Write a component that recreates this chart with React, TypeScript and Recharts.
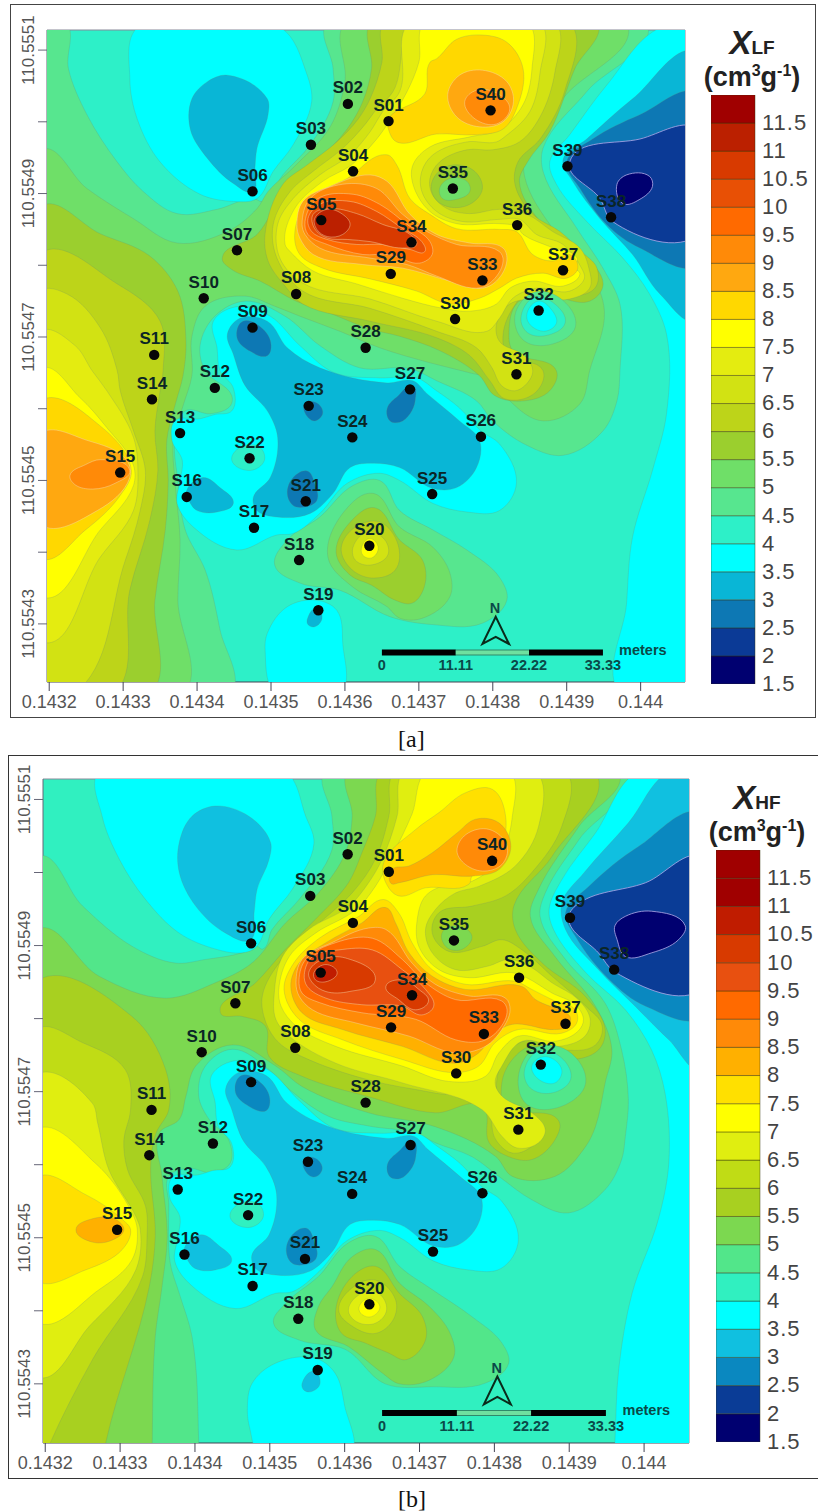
import { Bar, BarChart, CartesianGrid, LabelList, Scatter, ScatterChart, XAxis, YAxis } from 'recharts';

// all map coordinates are offsets from lon 0.1432 / lat 110.5543, in 1e-4 degrees
const STATIONS: [string, number, number][] = [
  ['S01', 4.59, 7.01], ['S02', 4.04, 7.25], ['S03', 3.54, 6.68], ['S04', 4.11, 6.31], ['S05', 3.68, 5.63],
  ['S06', 2.75, 6.03], ['S07', 2.54, 5.21], ['S08', 3.34, 4.6], ['S09', 2.75, 4.13], ['S10', 2.09, 4.54],
  ['S11', 1.42, 3.75], ['S12', 2.24, 3.29], ['S13', 1.77, 2.66], ['S14', 1.39, 3.13], ['S15', 0.96, 2.11],
  ['S16', 1.86, 1.77], ['S17', 2.77, 1.34], ['S18', 3.38, 0.89], ['S19', 3.64, 0.19], ['S20', 4.33, 1.09],
  ['S21', 3.47, 1.71], ['S22', 2.71, 2.31], ['S23', 3.51, 3.04], ['S24', 4.1, 2.6], ['S25', 5.18, 1.81],
  ['S26', 5.84, 2.61], ['S27', 4.88, 3.27], ['S28', 4.28, 3.85], ['S29', 4.62, 4.88], ['S30', 5.49, 4.25],
  ['S31', 6.32, 3.48], ['S32', 6.62, 4.37], ['S33', 5.86, 4.79], ['S34', 4.9, 5.32], ['S35', 5.46, 6.07],
  ['S36', 6.33, 5.56], ['S37', 6.95, 4.93], ['S38', 7.6, 5.67], ['S39', 7.01, 6.38], ['S40', 5.97, 7.16],
];

const LON_TICKS = [0.1432, 0.1433, 0.1434, 0.1435, 0.1436, 0.1437, 0.1438, 0.1439, 0.144];
const LAT_TICKS = [110.5543, 110.5544, 110.5545, 110.5546, 110.5547, 110.5548, 110.5549, 110.555, 110.5551];
const LAT_LABELS = [110.5543, 110.5545, 110.5547, 110.5549, 110.5551];
const LON_DOMAIN = [0.143197, 0.14406];
const LAT_DOMAIN = [110.554219, 110.555128];

const LEVELS = [1.5, 2, 2.5, 3, 3.5, 4, 4.5, 5, 5.5, 6, 6.5, 7, 7.5, 8, 8.5, 9, 9.5, 10, 10.5, 11, 11.5];
const LEVEL_TICKS = [1.5, 2, 2.5, 3, 3.5, 4, 4.5, 5, 5.5, 6, 6.5, 7, 7.5, 8, 8.5, 9, 9.5, 10, 10.5, 11, 11.5];
const COLORS_LF = ['#000070', '#0b3a96', '#0d78b4', '#09b6d6', '#00ffff', '#2df0c8', '#57e68f', '#6fdf68', '#9bcf2e', '#bdd419', '#d2e213', '#e4ec10', '#ffff00', '#ffd800', '#ffa810', '#ff8a08', '#ff6a00', '#e85005', '#d83a00', '#bb2000', '#a00000'];
const COLORS_HF = ['#000070', '#0a3c96', '#0a88c0', '#10c0e0', '#00ffff', '#30f0c0', '#52e68a', '#7cd850', '#a8d020', '#c0dc15', '#e0ee10', '#ffff00', '#ffe000', '#ffb000', '#ff8a08', '#ff6a00', '#e85010', '#d83a00', '#c01c00', '#a00000', '#a00000'];

// contour outlines [x, y, x, y, ...] of the [a] map
const A_45 = [-0.12,8.39, 0.22,8.39, 0.26,7.74, 0.51,7.1, 0.92,6.44, 1.27,6.03, 1.73,5.72, 2.27,5.78, 2.76,5.93, 2.89,5.89, 3.16,6.26, 3.53,6.68, 3.84,7.28, 3.84,7.74, 3.76,8.39, 8.08,8.39, 7.27,7.42, 6.68,6.63, 6.68,6.31, 7.14,5.51, 7.49,4.96, 7.72,4.46, 7.72,3.53, 7.68,3.11, 7.49,2.69, 6.95,2.35, 6.46,2.49, 6,2.83, 5.78,3.11, 5.24,3.39, 4.88,3.56, 4.2,3.57, 3.66,3.88, 3.19,4.29, 2.65,4.5, 2.24,4.29, 2.04,3.88, 2.11,3.53, 2.47,3.18, 2.45,3.04, 2.18,2.93, 1.84,2.97, 1.7,2.56, 1.74,2, 1.84,1.31, 2.11,0.75, 2.31,-0.08, 2.45,-0.99, -0.12,-0.99];
const A_50 = [-0.12,6.61, 0.51,6.07, 1.14,5.65, 1.73,5.31, 2.41,5.47, 2.81,5.79, 2.96,6.03, 3.32,6.38, 3.8,6.93, 4,7.56, 4.01,8.39, 7.81,8.39, 6.97,7.35, 6.46,6.65, 6.43,6.24, 6.84,5.47, 7.31,4.92, 7.51,4.36, 7.31,3.53, 7.18,3.07, 6.68,2.83, 6.23,3.11, 6.05,3.39, 5.69,3.5, 5.15,3.64, 4.47,3.85, 3.93,4.08, 3.39,4.29, 3.05,4.43, 2.65,4.57, 2.11,4.43, 1.93,4.01, 1.93,3.46, 1.81,3.04, 1.68,2.56, 1.7,2, 1.77,1.17, 1.74,0.33, 1.81,-0.99, -0.12,-0.99];
const A_W55 = [-0.12,5.82, 0.69,5.44, 1.36,5.13, 1.74,4.64, 1.85,3.94, 1.81,3.46, 1.7,3.04, 1.59,2.56, 1.61,2, 1.57,1.31, 1.43,0.33, 1.36,-0.99, -0.12,-0.99];
const A_W60 = [-0.12,5.17, 0.92,4.74, 1.5,4.22, 1.54,3.53, 1.5,3.25, 1.43,2.69, 1.47,2.14, 1.36,1.44, 1.09,0.47, 0.86,-0.99, -0.12,-0.99];
const A_W65 = [-0.12,4.64, 0.24,4.6, 0.69,4.13, 0.92,3.53, 0.96,3.25, 1.14,2.69, 1.3,2.14, 1.23,1.58, 1.03,0.89, 0.31,-0.99, -0.12,-0.99];
const A_W70 = [-0.12,4.08, 0.35,3.88, 0.58,3.53, 0.78,3.25, 1.14,2.6, 1.2,2.14, 1.14,1.58, 0.69,0.93, -0.12,-0.25];
const A_W75 = [-0.12,3.56, 0.42,3.15, 0.76,2.76, 1.14,2.21, 1.14,1.93, 0.69,1.31, -0.12,0.38];
const A_W80 = [-0.12,3.11, 0.69,2.76, 1.11,2.14, 0.96,1.79, 0.49,1.31, -0.12,0.92];
const A_W85 = [-0.12,2.65, 0.51,2.56, 1.05,2.28, 1.09,2.04, 0.65,1.58, -0.12,1.39];
const A_W90 = [0.28,2.07, 0.49,2.22, 0.69,2.29, 1.09,2.14, 0.89,1.96, 0.59,1.88, 0.35,1.94];
const A_C55 = [2.34,5.1, 2.81,5.43, 3.16,5.99, 3.62,6.44, 4.03,6.9, 4.24,7.28, 4.36,7.74, 4.36,8.39, 7.41,8.39, 7.11,7.74, 6.77,6.86, 6.47,6.44, 6.36,6.17, 6.64,5.61, 7.04,5.26, 7.38,4.99, 7.49,4.71, 7.31,4.5, 6.64,4.6, 6.32,4.46, 6.22,4.08, 6.27,3.81, 6.86,3.53, 6.77,3.25, 6.43,3.11, 6.03,3.18, 5.82,3.46, 5.28,3.81, 4.74,4.01, 4.34,4.11, 3.8,4.33, 3.34,4.5, 2.85,4.78, 2.47,4.94];
const A_C60 = [2.92,5.44, 3.16,6.13, 3.49,6.4, 3.89,6.72, 4.18,7.04, 4.34,7.32, 4.5,7.83, 4.54,8.39, 7.04,8.39, 6.97,7.42, 6.64,6.76, 6.34,6.44, 6.3,6.13, 6.54,5.71, 6.91,5.47, 7.2,5.19, 7.41,4.96, 7.38,4.68, 7,4.57, 6.54,4.68, 6.27,4.4, 6.14,4.04, 6.19,3.76, 6.68,3.53, 6.57,3.22, 6.16,3.14, 5.96,3.39, 5.69,3.74, 5.24,3.99, 4.34,4.22, 3.43,4.46, 3.19,4.71, 2.96,5.06];
const A_C65 = [3.03,5.57, 3.26,6.03, 3.57,6.31, 3.97,6.63, 4.27,6.96, 4.43,7.18, 4.65,7.42, 4.95,8.39, 6.84,8.39, 6.84,7.69, 6.64,7.07, 6.36,6.72, 6,6.61, 5.65,6.61, 5.28,6.44, 5.15,6.21, 5.18,5.99, 5.38,5.79, 5.69,5.72, 6.09,5.78, 6.46,5.71, 6.81,5.47, 7.18,5.24, 7.3,4.96, 7.31,4.68, 7.04,4.53, 6.59,4.53, 6.23,4.46, 6.05,4.18, 6.09,3.94, 6.43,3.74, 6.54,3.53, 6.46,3.35, 6.3,3.25, 6.12,3.32, 5.99,3.57, 5.78,3.85, 5.24,4.08, 4.34,4.4, 3.43,4.64, 3.08,5.1];
const A_C70 = [3.09,5.57, 3.3,5.93, 3.66,6.26, 4.07,6.54, 4.34,6.86, 4.51,7.14, 4.74,7.42, 4.88,8.39, 6.64,8.39, 6.64,7.69, 6.5,7.14, 6.16,6.79, 6.05,6.72, 5.65,6.72, 5.19,6.54, 5.04,6.31, 5.04,6.03, 5.24,5.75, 5.59,5.61, 6.09,5.64, 6.36,5.64, 6.59,5.43, 6.95,5.29, 7.2,4.96, 7.24,4.82, 7.04,4.64, 6.59,4.68, 6.27,4.54, 6.09,4.26, 5.92,4.08, 5.24,4.22, 4.34,4.53, 3.43,4.75, 3.12,5.1];
const A_C75 = [3.19,5.29, 3.32,5.79, 3.7,6.17, 4.09,6.4, 4.43,6.76, 4.57,6.96, 4.84,7.42, 5,7.83, 5.08,8.39, 6.47,8.39, 6.53,7.74, 6.41,7.24, 6.09,6.89, 5.69,6.79, 5.15,6.65, 4.92,6.4, 4.92,6.13, 5.15,5.75, 5.51,5.58, 6.09,5.58, 6.32,5.54, 6.41,5.43, 6.77,5.26, 7.14,5.1, 7.12,4.96, 7.18,4.88, 6.95,4.71, 6.54,4.78, 6.23,4.68, 6.05,4.46, 5.69,4.36, 5.32,4.4, 4.78,4.54, 4.16,4.74, 3.57,4.92, 3.26,5.19];
const A_C80 = [3.32,5.43, 3.49,5.89, 4.03,6.21, 4.57,6.54, 4.7,6.4, 4.88,5.93, 5.15,5.71, 5.51,5.51, 6.09,5.5, 6.32,5.47, 6.54,5.15, 6.81,5.06, 7.04,5.15, 7.15,4.96, 7,4.82, 6.68,4.89, 6.32,4.82, 6.09,4.68, 5.82,4.54, 5.42,4.46, 4.97,4.64, 4.34,4.81, 3.7,4.96, 3.39,5.15];
const A_C85 = [3.35,5.57, 3.43,5.89, 3.8,6.1, 4.34,6.26, 4.57,6.17, 4.88,5.71, 5.24,5.43, 5.69,5.31, 6.14,5.24, 6.19,5.06, 6.05,4.78, 5.86,4.68, 5.42,4.78, 4.78,4.96, 4.24,5.01, 3.57,5.15, 3.39,5.38];
const A_C90 = [3.42,5.57, 3.53,5.93, 3.97,6.13, 4.43,6.07, 4.78,5.71, 5.11,5.47, 5.51,5.29, 6.09,5.19, 6.14,5.06, 5.96,4.75, 5.78,4.68, 5.24,4.85, 4.84,5.01, 4.34,5.1, 3.66,5.24, 3.46,5.43];
const A_C95 = [3.46,5.61, 3.62,5.92, 4.11,5.99, 4.47,5.85, 4.84,5.57, 5.15,5.33, 5.18,5.15, 5.01,5.03, 4.61,5.15, 4.24,5.15, 3.76,5.29, 3.5,5.43];
const A_C100 = [3.5,5.65, 3.66,5.85, 4.07,5.89, 4.43,5.75, 4.78,5.51, 5.04,5.33, 5.08,5.19, 4.88,5.22, 4.51,5.29, 4.16,5.29, 3.76,5.36, 3.55,5.47];
const A_C105 = [3.57,5.71, 3.8,5.79, 4.16,5.72, 4.51,5.57, 4.88,5.43, 4.97,5.29, 4.78,5.24, 4.34,5.33, 4.03,5.36, 3.76,5.38, 3.59,5.51];
const A_C110 = [3.59,5.65, 3.76,5.78, 3.97,5.71, 4.07,5.57, 3.97,5.43, 3.76,5.4, 3.62,5.5];
const A_N80 = [4.58,7.03, 5.08,7.39, 5.15,7.83, 5.24,7.88, 5.51,8.15, 5.86,8.21, 6.19,8.11, 6.41,7.74, 6.32,7.18, 6.14,6.9, 5.78,6.82, 5.24,6.83, 4.7,6.72, 4.58,6.93];
const A_N85 = [5.39,7.38, 5.55,7.65, 5.86,7.72, 6.19,7.56, 6.28,7.28, 6.14,7, 5.82,6.93, 5.51,7.07];
const A_N90 = [5.62,7.28, 5.78,7.44, 6.09,7.38, 6.23,7.18, 6.05,6.97, 5.76,7.04];
const A_S35A = [5.18,6.17, 5.38,6.38, 5.73,6.33, 5.86,6.07, 5.69,5.85, 5.38,5.82, 5.2,5.96];
const A_S35B = [5.28,6.07, 5.42,6.21, 5.65,6.17, 5.69,6.03, 5.51,5.92, 5.32,5.93];
const A_S32A = [6.3,4.3, 6.55,4.62, 6.9,4.55, 7.12,4.15, 6.8,3.9, 6.42,3.95];
const A_S32B = [6.38,4.26, 6.56,4.55, 6.84,4.46, 6.98,4.2, 6.72,4.02, 6.47,4.06];
const A_S32C = [6.46,4.26, 6.61,4.5, 6.81,4.36, 6.86,4.19, 6.68,4.08];
const A_S20A = [3.05,0.82, 3.22,1.17, 3.66,1.49, 4.11,1.93, 4.47,2, 4.74,1.58, 5.19,1.31, 5.65,1.03, 6.09,0.65, 6.19,0.33, 5.86,0.01, 5.19,-0.01, 4.61,0.1, 3.93,0.47, 3.39,0.57];
const A_S20B = [3.77,0.93, 4,1.58, 4.38,1.82, 4.74,1.35, 5.19,1.07, 5.42,0.71, 5.42,0.38, 5.05,0.08, 4.74,0.08, 4.57,0.24, 4.11,0.51];
const A_S20C = [3.88,1, 4.09,1.44, 4.4,1.62, 4.74,1.17, 5.05,0.89, 5.08,0.54, 4.91,0.29, 4.68,0.33, 4.36,0.54, 4.07,0.68];
const A_S20D = [3.95,1.06, 4.14,1.35, 4.47,1.42, 4.72,1.1, 4.68,0.75, 4.36,0.64, 4.07,0.78];
const A_S20E = [4.11,1.07, 4.31,1.28, 4.54,1.17, 4.58,0.96, 4.34,0.82, 4.14,0.89];
const A_S20F = [4.23,1.08, 4.34,1.19, 4.45,1.06, 4.36,0.92, 4.24,0.96];
const A_LOW_NW = [1.2,8.32, 1.09,7.6, 1.19,7.04, 1.5,6.44, 2.04,5.99, 2.49,5.89, 2.81,5.93, 3.03,6.31, 3.3,6.68, 3.55,7.28, 3.49,7.65, 3.12,8.32];
const A_LOW_NW2 = [2.41,7.65, 2.95,7.32, 2.96,7.1, 2.81,6.63, 2.78,6.31, 2.76,6.03, 2.49,6.14, 2.14,6.49, 1.91,6.89, 1.93,7.32, 2.14,7.56];
const A_LOW_MID = [2.58,4.43, 2.99,4.29, 3.39,3.88, 3.86,3.5, 4.47,3.43, 4.97,3.43, 5.24,3.25, 5.55,3.01, 5.84,2.69, 6.09,2.51, 6.32,1.96, 6.09,1.58, 5.65,1.56, 5.19,1.68, 4.74,2, 4.47,2.1, 4.03,1.96, 3.66,1.54, 3.3,1.26, 3.08,1.24, 2.54,1.03, 1.95,1.35, 1.73,1.68, 1.77,2, 1.8,2.28, 1.66,2.56, 1.7,2.83, 2.04,2.86, 2.24,2.92, 2.47,2.97, 2.49,3.29, 2.31,3.53, 2.27,3.85, 2.22,4.22];
const A_LOW_MID2 = [2.58,4.26, 2.95,4.22, 3.22,3.85, 3.66,3.57, 4.57,3.36, 4.92,3.39, 5.11,3.21, 5.55,2.83, 5.82,2.56, 5.78,2.18, 5.51,1.9, 5.18,1.89, 4.74,2.18, 4.38,2.24, 4.07,2.18, 3.84,1.82, 3.53,1.54, 3.08,1.49, 2.81,1.58, 2.76,1.76, 2.99,2.04, 3.09,2.6, 2.95,2.97, 2.65,3.32, 2.49,3.76, 2.41,4.04];
const A_LOW_S16 = [1.91,1.68, 1.86,1.86, 2.08,2.04, 2.31,1.9, 2.49,1.68, 2.27,1.56, 2,1.58];
const A_LOW_S19 = [2.95,-0.13, 3.22,0.24, 3.62,0.33, 3.89,0.19, 3.97,-0.26, 3.93,-0.99, 3.08,-0.99, 2.92,-0.36];
const A_LOW_S19B = [3.49,0.06, 3.62,0.22, 3.69,0.08, 3.59,-0.04, 3.5,-0.01];
const A_LOW_S09 = [2.54,3.99, 2.62,4.22, 2.89,4.11, 3,3.9, 2.95,3.74, 2.72,3.8];
const A_LOW_S23 = [3.46,3.08, 3.62,3.08, 3.7,2.94, 3.59,2.83, 3.46,2.94];
const A_LOW_S27 = [4.57,3, 4.72,3.18, 4.92,3.32, 4.95,3.11, 4.88,2.93, 4.74,2.81, 4.61,2.83];
const A_LOW_S21 = [3.22,1.82, 3.3,2.04, 3.49,2.13, 3.59,1.96, 3.62,1.72, 3.46,1.63, 3.3,1.65];
const A_S22 = [2.47,2.28, 2.58,2.46, 2.85,2.46, 2.91,2.28, 2.72,2.14];
const A_E40 = [8.28,8.32, 7.54,7.51, 7.04,6.82, 6.77,6.44, 6.86,6.13, 7.27,5.61, 7.76,5.1, 8.12,4.6, 8.35,4.04, 8.35,2.93, 8.16,2.14, 7.89,1.21, 7.81,0.29, 7.74,-0.99, 8.8,-0.99, 8.8,8.32];
const A_E35 = [8.8,7.97, 7.89,7.32, 7.27,6.76, 6.95,6.47, 7.08,6.17, 7.45,5.65, 7.89,5.15, 8.26,4.6, 8.8,4.22];
const A_E30 = [8.8,7.39, 7.99,7.1, 7.35,6.76, 7,6.44, 7.18,6.07, 7.54,5.57, 7.99,5.24, 8.8,5.01];
const A_E25 = [8.8,6.89, 7.99,6.76, 7.04,6.44, 7.45,5.93, 7.62,5.61, 8.8,5.44];
const A_E20 = [7.68,6.13, 7.81,6.26, 8.12,6.24, 8.16,6.1, 7.99,5.92, 7.76,5.86];

// contour outlines of the [b] map
const B_45 = [-0.12,7.22, 0.5,6.54, 1.16,5.99, 1.74,5.76, 2.14,5.81, 2.63,5.9, 2.83,5.99, 2.9,5.95, 3.03,6.22, 3.39,6.63, 3.83,7.31, 3.83,7.77, 3.74,8.39, 7.79,8.39, 7.13,7.45, 6.68,6.72, 6.61,6.4, 6.95,5.81, 7.48,5.21, 7.7,4.57, 7.79,3.89, 7.75,3.39, 7.7,3.07, 7.48,2.66, 6.99,2.34, 6.5,2.52, 6.06,2.84, 5.7,3.11, 5.21,3.3, 4.95,3.43, 4.32,3.53, 3.79,3.66, 3.26,4.03, 2.99,4.3, 2.5,4.58, 2.14,4.35, 2.05,3.94, 2.19,3.62, 2.45,3.34, 2.47,3.02, 2.23,2.89, 1.92,2.95, 1.65,2.84, 1.65,2.47, 1.67,1.65, 1.79,1.24, 1.96,0.65, 2.05,-0.8, 2.05,-0.99, -0.12,-0.99];
const B_50 = [-0.12,6.22, 0.72,5.58, 1.61,5.28, 2.27,5.49, 2.76,5.76, 3.21,6.31, 3.65,6.72, 4.01,7.27, 4.1,7.77, 4.05,8.39, 7.66,8.39, 7.13,7.63, 6.59,6.77, 6.48,6.4, 6.81,5.85, 7.35,5.17, 7.57,4.57, 7.48,4.12, 7.35,3.52, 7.22,3.25, 6.81,2.84, 6.24,2.84, 6.02,3.11, 5.21,3.52, 4.32,3.71, 3.43,4.07, 3.08,4.35, 2.5,4.64, 2.01,4.35, 1.88,3.94, 1.79,3.62, 1.52,3.43, 1.56,2.84, 1.63,2.02, 1.56,1.33, 1.47,0.65, 1.43,-0.8, 1.43,-0.99, -0.12,-0.99];
const B_W55 = [-0.12,5.51, 1.16,5.03, 1.61,4.3, 1.65,3.75, 1.48,3.43, 1.41,3.02, 1.47,2.02, 1.39,1.33, 0.81,-0.8, 0.78,-0.99, -0.12,-0.99];
const B_W60 = [-0.12,4.85, 0.5,4.67, 1.07,4.3, 1.14,3.75, 1.05,3.34, 1.1,2.93, 1.34,2.43, 1.36,2.02, 1.3,1.47, 0.63,0.33, 0.07,-0.8, 0,-0.99, -0.12,-0.99];
const B_W65 = [-0.12,4.23, 0.63,3.84, 0.7,3.57, 0.85,2.93, 1.21,2.29, 1.27,2.11, 1.21,1.56, 0.59,0.79, -0.12,0.1];
const B_W70 = [-0.12,3.48, 0.67,3.02, 1.16,2.34, 1.23,2.11, 1.16,1.7, 0.72,1.29, -0.12,0.85];
const B_W75 = [-0.12,2.82, 0.54,2.59, 1.03,2.25, 1.14,2.11, 1.03,1.84, 0.54,1.56, -0.12,1.42];
const B_W80 = [0.41,2.11, 0.63,2.26, 0.94,2.25, 1.05,2.11, 0.9,1.97, 0.63,1.94];
const B_C55 = [2.34,5.08, 2.81,5.49, 3.21,5.95, 3.61,6.36, 4.05,6.86, 4.23,7.27, 4.41,7.77, 4.5,8.39, 7.35,8.39, 6.77,7.22, 6.26,6.54, 6.28,6.22, 6.64,5.76, 7.22,5.3, 7.48,4.85, 7.39,4.57, 6.95,4.44, 6.5,4.62, 6.24,4.44, 6.1,4.12, 6.15,3.8, 6.86,3.6, 6.81,3.34, 6.5,3.07, 6.19,3.11, 5.93,3.3, 5.84,3.8, 5.21,3.71, 4.32,3.93, 3.43,4.21, 2.99,4.48, 2.94,4.9, 2.63,5.03];
const B_C60 = [2.9,5.31, 3.16,5.81, 3.61,6.26, 4.1,6.72, 4.41,7.18, 4.59,7.77, 4.68,8.39, 6.95,8.39, 6.9,7.63, 6.5,7, 6.15,6.68, 5.7,6.54, 5.26,6.45, 5.17,6.17, 5.39,5.92, 5.84,5.99, 6.1,6.08, 6.37,5.94, 6.77,5.58, 7.22,5.17, 7.44,4.9, 7.35,4.64, 6.95,4.57, 6.5,4.71, 6.19,4.57, 6.04,4.21, 6.06,3.89, 6.33,3.62, 6.64,3.48, 6.5,3.25, 6.24,3.16, 6.02,3.34, 5.88,3.84, 5.21,3.98, 4.32,4.16, 3.43,4.48, 3.12,4.67, 2.95,4.94];
const B_C65 = [3.06,5.35, 3.17,5.85, 3.52,6.22, 4.06,6.54, 4.32,6.86, 4.5,7.18, 4.7,7.77, 4.8,8.39, 6.55,8.39, 6.59,7.63, 6.28,7.09, 5.79,6.81, 5.48,6.72, 5.21,6.49, 5.08,6.22, 5.17,5.9, 5.48,5.67, 5.92,5.72, 6.19,5.81, 6.46,5.72, 6.77,5.49, 7.12,5.26, 7.28,4.99, 7.21,4.76, 6.86,4.62, 6.37,4.69, 6.1,4.35, 6.01,4.12, 6.1,3.94, 6.5,3.71, 6.68,3.48, 6.59,3.3, 6.3,3.23, 6.1,3.39, 5.84,3.75, 4.77,4.12, 3.88,4.39, 3.26,4.76, 3.08,4.99];
const B_C70 = [3.12,5.4, 3.26,5.85, 3.61,6.17, 4.15,6.49, 4.41,6.81, 4.63,7.22, 4.9,7.8, 5.1,8.39, 6.2,8.39, 6.24,7.77, 6.06,7.18, 5.7,6.88, 5.39,6.84, 5.08,6.68, 4.97,6.36, 4.99,5.99, 5.26,5.67, 5.66,5.56, 6.23,5.63, 6.43,5.56, 6.77,5.35, 7.08,5.19, 7.19,4.99, 7.12,4.83, 6.81,4.69, 6.32,4.76, 6.06,4.53, 5.88,4.21, 5.39,4.14, 4.77,4.35, 3.88,4.62, 3.35,4.9, 3.15,5.17];
const B_C75 = [3.19,5.4, 3.32,5.76, 3.66,6.1, 4.19,6.4, 4.52,6.63, 4.72,6.45, 4.9,6.04, 5.17,5.67, 5.61,5.47, 6.28,5.51, 6.5,5.4, 6.81,5.24, 7.08,5.12, 7.1,4.94, 6.9,4.8, 6.32,4.85, 6.01,4.67, 5.79,4.35, 5.48,4.26, 4.77,4.44, 3.97,4.71, 3.39,4.99];
const B_C80 = [3.28,5.44, 3.39,5.76, 3.75,6.04, 4.23,6.31, 4.55,6.52, 4.68,6.31, 4.86,5.9, 5.17,5.58, 5.61,5.4, 6.37,5.44, 6.55,5.26, 6.86,5.12, 7.01,5.03, 6.99,4.9, 6.81,4.85, 6.23,4.92, 6.01,4.8, 5.79,4.53, 5.48,4.39, 4.77,4.62, 3.97,4.85, 3.43,5.08];
const B_C85 = [3.35,5.49, 3.43,5.81, 3.83,6.04, 4.32,6.24, 4.55,6.22, 4.9,5.76, 5.21,5.47, 5.66,5.31, 6.15,5.28, 6.21,5.12, 6.1,4.85, 5.88,4.62, 5.48,4.53, 4.86,4.76, 4.15,4.94, 3.57,5.12, 3.39,5.31];
const B_C90 = [3.39,5.53, 3.48,5.81, 3.88,6.04, 4.37,6.1, 4.77,5.81, 5.08,5.49, 5.48,5.26, 6.1,5.24, 6.17,5.12, 6.06,4.85, 5.83,4.69, 5.48,4.71, 4.95,4.99, 4.23,5.08, 3.66,5.22, 3.43,5.35];
const B_C95 = [3.46,5.6, 3.57,5.85, 3.92,5.94, 4.37,5.94, 4.77,5.67, 5.08,5.4, 5.19,5.17, 5.03,5.05, 4.77,5.17, 4.23,5.19, 3.75,5.28, 3.5,5.44];
const B_C100 = [3.52,5.63, 3.7,5.81, 4.01,5.83, 4.41,5.53, 4.06,5.37, 3.75,5.37, 3.57,5.49];
const B_S34 = [4.55,5.44, 4.77,5.53, 4.99,5.4, 5.12,5.24, 4.95,5.12, 4.72,5.26];
const B_C105 = [3.59,5.63, 3.75,5.74, 3.9,5.63, 3.77,5.51, 3.61,5.53];
const B_N75 = [4.55,6.86, 4.52,7.13, 4.95,7.59, 5.26,7.82, 5.61,8.09, 5.97,8.14, 6.15,7.77, 6.06,7.27, 5.7,6.95, 5.66,6.84, 5.08,6.79, 4.72,6.68];
const B_N80 = [4.63,7.04, 4.86,7.09, 5.17,7.27, 5.5,7.54, 5.75,7.73, 6.06,7.68, 6.22,7.36, 6.06,7.04, 5.7,6.95, 5.17,6.97, 4.73,6.86, 4.62,6.85];
const B_N85 = [5.5,7.3, 5.62,7.52, 5.93,7.59, 6.17,7.36, 6.1,7.11, 5.84,7.02, 5.59,7.13];
const B_S35 = [5.3,6.17, 5.48,6.27, 5.7,6.13, 5.57,5.95, 5.37,5.97];
const B_S32A = [6.32,4.2, 6.55,4.6, 6.98,4.56, 7.22,4.12, 6.9,3.8, 6.44,3.82];
const B_S32B = [6.4,4.28, 6.6,4.56, 6.92,4.44, 7.02,4.17, 6.76,3.98, 6.48,4.05];
const B_S32C = [6.5,4.35, 6.68,4.48, 6.9,4.3, 6.81,4.12, 6.59,4.17];
const B_S20A = [3.05,0.83, 3.21,1.1, 3.65,1.47, 4.05,1.93, 4.41,2.02, 4.73,1.61, 5.17,1.29, 5.7,0.92, 6.1,0.56, 6.19,0.28, 5.88,0.01, 5.17,-0.04, 4.54,0, 4.01,0.47, 3.39,0.6];
const B_S20B = [3.65,1.06, 3.83,1.33, 4.1,1.74, 4.41,1.84, 4.73,1.38, 5.13,1.06, 5.41,0.69, 5.46,0.37, 5.13,0.05, 4.73,0, 4.5,0.15, 4.05,0.51, 3.61,0.74];
const B_S20C = [3.88,1.01, 4.1,1.47, 4.41,1.61, 4.73,1.24, 5.04,0.92, 5.08,0.6, 4.82,0.33, 4.59,0.42, 4.27,0.56, 3.96,0.69];
const B_S20D = [3.92,1.01, 4.12,1.33, 4.41,1.42, 4.68,1.15, 4.65,0.88, 4.41,0.69, 4.1,0.79];
const B_S20E = [4.05,1.01, 4.23,1.24, 4.45,1.24, 4.56,1.01, 4.41,0.83, 4.16,0.85];
const B_S20F = [4.19,1.04, 4.32,1.17, 4.47,1.06, 4.36,0.92, 4.23,0.95];
const B_LOW_NW = [0.72,8.39, 0.76,7.77, 0.99,7.18, 1.34,6.63, 1.79,6.17, 2.28,5.95, 2.63,5.9, 2.81,5.97, 2.99,6.36, 3.3,6.77, 3.59,7.4, 3.48,7.77, 3.2,8.39];
const B_LOW_NW2 = [2.27,7.91, 2.72,7.77, 3.01,7.41, 2.99,7.18, 2.83,6.77, 2.79,6.45, 2.74,6.08, 2.41,6.17, 2.01,6.54, 1.79,7, 1.79,7.41, 1.96,7.77];
const B_LOW_S19 = [2.7,-0.36, 2.76,0, 3.07,0.28, 3.61,0.35, 3.87,0.15, 4,-0.3, 4.07,-0.99, 2.88,-0.99, 2.73,-0.6];
const B_LOW_S19B = [3.43,0, 3.59,0.17, 3.67,0, 3.54,-0.11, 3.45,-0.08];
const B_E40 = [7.93,8.39, 7.35,7.54, 6.9,6.9, 6.73,6.49, 6.79,6.22, 7.22,5.63, 7.75,5.12, 8.1,4.57, 8.28,3.98, 8.33,3.02, 8.19,2.25, 7.84,1.24, 7.66,0.19, 7.61,-0.8, 7.6,-0.99, 8.8,-0.99, 8.8,8.39];
const B_E35 = [8.35,8.39, 7.79,7.68, 7.2,7, 6.9,6.58, 6.95,6.22, 7.39,5.67, 7.88,5.17, 8.33,4.71, 8.8,4.3, 8.8,8.39];
const B_E30 = [8.8,7.8, 7.93,7.36, 7.26,6.81, 6.95,6.45, 7.08,6.13, 7.53,5.54, 8.02,5.17, 8.8,5.03];
const B_E25 = [8.8,7.2, 8.02,6.86, 7.08,6.54, 6.99,6.36, 7.39,5.9, 7.62,5.63, 8.8,5.42];
const B_E20 = [7.61,6.27, 7.75,6.4, 8.1,6.47, 8.55,6.27, 8.46,6.08, 8.1,5.9, 7.75,5.85, 7.64,6.08];

// level is the lower bound of the legend band the outline is filled with
const LAYERS_A: [number, number[]][] = [
  [4.5, A_45], [5, A_50], [5.5, A_W55], [6, A_W60], [6.5, A_W65], [7, A_W70], [7.5, A_W75], [8, A_W80], [8.5, A_W85], [9, A_W90],
  [5.5, A_C55], [6, A_C60], [6.5, A_C65], [7, A_C70], [7.5, A_C75], [8, A_C80], [8.5, A_C85], [9, A_C90], [9.5, A_C95], [10, A_C100], [10.5, A_C105], [11, A_C110],
  [8, A_N80], [8.5, A_N85], [9, A_N90], [5.5, A_S35A], [5, A_S35B], [4.5, A_S32A], [4, A_S32B], [3.5, A_S32C],
  [4.5, A_S20A], [5, A_S20B], [5.5, A_S20C], [6, A_S20D], [6.5, A_S20E], [7.5, A_S20F],
  [3.5, A_LOW_NW], [3, A_LOW_NW2], [3.5, A_LOW_MID], [3, A_LOW_MID2], [3, A_LOW_S16], [3.5, A_LOW_S19], [3, A_LOW_S19B],
  [2.5, A_LOW_S09], [2.5, A_LOW_S23], [2.5, A_LOW_S27], [2.5, A_LOW_S21], [4, A_S22],
  [3.5, A_E40], [3, A_E35], [2.5, A_E30], [2, A_E25], [1.5, A_E20],
];
const LAYERS_B: [number, number[]][] = [
  [4.5, B_45], [5, B_50], [5.5, B_W55], [6, B_W60], [6.5, B_W65], [7, B_W70], [7.5, B_W75], [8, B_W80],
  [5.5, B_C55], [6, B_C60], [6.5, B_C65], [7, B_C70], [7.5, B_N75], [8, B_N80], [8.5, B_N85],
  [7.5, B_C75], [8, B_C80], [8.5, B_C85], [9, B_C90], [9.5, B_C95], [10, B_C100], [10, B_S34], [10.5, B_C105],
  [5, B_S35], [4.5, B_S32A], [4, B_S32B], [3.5, B_S32C],
  [4.5, B_S20A], [5, B_S20B], [5.5, B_S20C], [6, B_S20D], [6.5, B_S20E], [7, B_S20F],
  [3.5, B_LOW_NW], [3, B_LOW_NW2], [3.5, A_LOW_MID], [3, A_LOW_MID2], [3, A_LOW_S16], [3.5, B_LOW_S19], [3, B_LOW_S19B],
  [2.5, A_LOW_S09], [2.5, A_LOW_S23], [2.5, A_LOW_S27], [2.5, A_LOW_S21], [4, A_S22],
  [3.5, B_E40], [3, B_E35], [2.5, B_E30], [2, B_E25], [1.5, B_E20],
];

const SCALE_BAR_BLACK_A = [4.5, 5.5];
const SCALE_BAR_LIGHT = [5.5, 6.49];
const SCALE_BAR_BLACK_B = [6.49, 7.49];
const SCALE_BAR_Y = -0.4;
const NORTH_ARROW = [6.04,0.1, 5.86,-0.28, 6.04,-0.18, 6.22,-0.28];
const MAP_NOTES: [string, number, number][] = [
  ['0', 4.5, -0.57], ['11.11', 5.5, -0.57], ['22.22', 6.49, -0.57], ['33.33', 7.49, -0.57], ['meters', 8.03, -0.36], ['N', 6.03, 0.22],
];

const FONT = '"Liberation Sans", Arial, sans-serif';

const toPoint = (x: number, y: number) => ({ lon: 0.1432 + x * 1e-4, lat: 110.5543 + y * 1e-4 });
const outline = (flat: number[]) => {
  const out = [];
  for (let i = 0; i < flat.length; i += 2) out.push(toPoint(flat[i], flat[i + 1]));
  return out;
};
const stationData = STATIONS.map(([name, x, y]) => ({ name, ...toPoint(x, y) }));
const noteData = MAP_NOTES.map(([name, x, y]) => ({ name, ...toPoint(x, y) }));
const formatLon = (v: number) => String(Number(v.toFixed(4)));

// closed curve through every traced point; tangents follow the bisector of the two chords
// and scale with the segment, so long edges outside the frame do not bulge into the map
const smoothClosed = (context: any) => {
  let pts: number[][] = [];
  const tangent = (a: number[], b: number[], c: number[]) => {
    const l1 = Math.hypot(b[0] - a[0], b[1] - a[1]) || 1;
    const l2 = Math.hypot(c[0] - b[0], c[1] - b[1]) || 1;
    const tx = (b[0] - a[0]) / l1 + (c[0] - b[0]) / l2;
    const ty = (b[1] - a[1]) / l1 + (c[1] - b[1]) / l2;
    const l = Math.hypot(tx, ty) || 1;
    return [tx / l, ty / l];
  };
  return {
    areaStart() {},
    areaEnd() {},
    lineStart() { pts = []; },
    point(x: number, y: number) { pts.push([+x, +y]); },
    lineEnd() {
      const n = pts.length;
      if (!n) return;
      context.moveTo(pts[0][0], pts[0][1]);
      for (let i = 0; i < n; i++) {
        const a = pts[(i - 1 + n) % n], b = pts[i], c = pts[(i + 1) % n], d = pts[(i + 2) % n];
        const len = Math.hypot(c[0] - b[0], c[1] - b[1]) / 3;
        const t1 = tangent(a, b, c), t2 = tangent(b, c, d);
        context.bezierCurveTo(b[0] + t1[0] * len, b[1] + t1[1] * len, c[0] - t2[0] * len, c[1] - t2[1] * len, c[0], c[1]);
      }
      context.closePath();
    },
  };
};

const LatTick = ({ x, y, payload }: any) => {
  if (!LAT_LABELS.includes(payload.value)) return null;
  return (
    <text x={x - 6} y={y} transform={`rotate(-90 ${x - 6} ${y})`} textAnchor="middle" dominantBaseline="middle" fill="#555" fontSize={17} fontFamily={FONT}>
      {payload.value}
    </text>
  );
};

const noDot = () => null;
const stationDot = (p: any) => <circle cx={p.cx} cy={p.cy} r={5.2} fill="#070707" />;

const lineStyle = (level: number, fill: string) => {
  if (level <= 2) return { fill, stroke: '#b0a8e8', strokeOpacity: 0.9, strokeWidth: 0.9 };
  if (level >= 8.5) return { fill, stroke: '#f4dcb0', strokeOpacity: 0.55, strokeWidth: 0.8 };
  return { fill, stroke: '#6a8a70', strokeOpacity: 0.28, strokeWidth: 0.8 };
};

function MapChart({ top, height, margin, layers, colors }: any) {
  return (
    <div style={{ position: 'absolute', left: 0, top }}>
      <ScatterChart width={818} height={height} margin={margin}>
        <CartesianGrid horizontal={false} vertical={false} fill={colors[5]} />
        <XAxis type="number" dataKey="lon" domain={LON_DOMAIN} ticks={LON_TICKS} allowDataOverflow height={40} tickSize={9} tickFormatter={formatLon} stroke="#445" tick={{ fill: '#555', fontSize: 18, fontFamily: FONT, dy: 2 }} interval={0} />
        <XAxis xAxisId="top" orientation="top" type="number" dataKey="lon" domain={LON_DOMAIN} ticks={LON_TICKS} allowDataOverflow height={10} tickSize={9} tick={false} stroke="#889" interval={0} />
        <YAxis type="number" dataKey="lat" domain={LAT_DOMAIN} ticks={LAT_TICKS} allowDataOverflow width={40} tickSize={9} tick={<LatTick />} stroke="#667" interval={0} />
        <YAxis yAxisId="right" orientation="right" type="number" dataKey="lat" domain={LAT_DOMAIN} ticks={LAT_TICKS} allowDataOverflow width={10} tickSize={9} tick={false} stroke="#889" interval={0} />
        {layers.map(([level, flat]: [number, number[]], i: number) => (
          <Scatter
            key={i}
            data={outline(flat)}
            shape={noDot}
            isAnimationActive={false}
            line={lineStyle(level, colors[LEVELS.indexOf(level)])}
            lineJointType={smoothClosed as any}
          />
        ))}
        <Scatter data={outline([SCALE_BAR_BLACK_A[0], SCALE_BAR_Y, SCALE_BAR_BLACK_A[1], SCALE_BAR_Y])} shape={noDot} isAnimationActive={false} line={{ stroke: '#000', strokeWidth: 6 }} />
        <Scatter data={outline([SCALE_BAR_LIGHT[0], SCALE_BAR_Y, SCALE_BAR_LIGHT[1], SCALE_BAR_Y])} shape={noDot} isAnimationActive={false} line={{ stroke: '#2f8a6a', strokeWidth: 6 }} />
        <Scatter data={outline([SCALE_BAR_LIGHT[0], SCALE_BAR_Y, SCALE_BAR_LIGHT[1], SCALE_BAR_Y])} shape={noDot} isAnimationActive={false} line={{ stroke: '#6fe0a0', strokeWidth: 4 }} />
        <Scatter data={outline([SCALE_BAR_BLACK_B[0], SCALE_BAR_Y, SCALE_BAR_BLACK_B[1], SCALE_BAR_Y])} shape={noDot} isAnimationActive={false} line={{ stroke: '#000', strokeWidth: 6 }} />
        <Scatter data={outline(NORTH_ARROW)} shape={noDot} isAnimationActive={false} line={{ stroke: '#0a2a1a', strokeWidth: 2 }} lineJointType="linearClosed" />
        <Scatter data={noteData} shape={noDot} isAnimationActive={false}>
          <LabelList dataKey="name" position="center" fill="#0a4a48" fontSize={14.5} fontWeight="bold" fontFamily={FONT} />
        </Scatter>
        <Scatter data={stationData} shape={stationDot} isAnimationActive={false}>
          <LabelList dataKey="name" position="top" offset={6} fill="#0a2626" fontSize={17} fontWeight="bold" fontFamily={FONT} />
        </Scatter>
      </ScatterChart>
    </div>
  );
}

function ColorBar({ left, top, height, colors }: any) {
  const row: Record<string, number | string> = { name: 'band', base: 1.5 };
  LEVELS.forEach((l) => { row['b' + l] = 0.5; });
  return (
    <div style={{ position: 'absolute', left, top }}>
      <BarChart width={107} height={height + 14} data={[row]} margin={{ top: 0, right: 0, bottom: 14, left: 0 }} barCategoryGap={0}>
        <XAxis dataKey="name" hide />
        <YAxis orientation="right" type="number" domain={[1.5, 12]} ticks={LEVEL_TICKS} allowDataOverflow width={63} axisLine={false} tickLine={false} interval={0} tick={{ fill: '#444', fontSize: 22, letterSpacing: 1, fontFamily: FONT, dx: -1, dy: -1 }} />
        <Bar dataKey="base" stackId="s" fill="none" isAnimationActive={false} />
        {LEVELS.map((l, i) => (
          <Bar key={l} dataKey={'b' + l} stackId="s" fill={colors[i]} stroke="#33330a" strokeOpacity={0.55} strokeWidth={0.8} isAnimationActive={false} />
        ))}
      </BarChart>
    </div>
  );
}

function Title({ cx, top, sub }: any) {
  return (
    <div style={{ position: 'absolute', left: cx - 70, width: 140, top, textAlign: 'center', fontFamily: FONT, fontWeight: 'bold', color: '#222', lineHeight: '29px' }}>
      <div><span style={{ fontStyle: 'italic', fontSize: 33 }}>Χ</span><span style={{ fontSize: 19 }}>{sub}</span></div>
      <div style={{ fontSize: 27 }}>(cm<sup style={{ fontSize: 16, lineHeight: 0 }}>3</sup>g<sup style={{ fontSize: 16, lineHeight: 0 }}>-1</sup>)</div>
    </div>
  );
}

const Caption = ({ top, text }: any) => (
  <div style={{ position: 'absolute', left: 398, top, fontFamily: '"Liberation Serif", serif', fontSize: 24, color: '#111', lineHeight: '26px' }}>{text}</div>
);

export default function App() {
  return (
    <div style={{ position: 'absolute', left: 0, top: 0, width: 818, height: 1512, overflow: 'hidden', background: '#fff' }}>
      <div style={{ position: 'absolute', left: 10, top: 4, width: 804, height: 712, border: '1.5px solid #444' }} />
      <div style={{ position: 'absolute', left: 8, top: 755, width: 820, height: 722, border: '1.5px solid #333' }} />
      <MapChart top={0} height={730} margin={{ top: 20, right: 123, bottom: 8, left: 7 }} layers={LAYERS_A} colors={COLORS_LF} />
      <MapChart top={750} height={740} margin={{ top: 19, right: 119, bottom: 7, left: 3 }} layers={LAYERS_B} colors={COLORS_HF} />
      <ColorBar left={711} top={95} height={589} colors={COLORS_LF} />
      <ColorBar left={716} top={850} height={592} colors={COLORS_HF} />
      <Title cx={752} top={28} sub="LF" />
      <Title cx={757} top={783} sub="HF" />
      <Caption top={726} text="[a]" />
      <Caption top={1486} text="[b]" />
    </div>
  );
}
